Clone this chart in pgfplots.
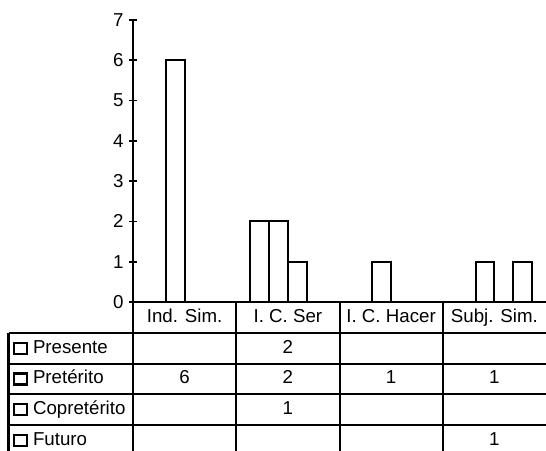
\documentclass[border=0pt]{standalone}
\usepackage{fontspec}
\setmainfont{Liberation Sans}
\usepackage{pgfplots}
\pgfplotsset{compat=1.18}
\begin{document}
\begin{tikzpicture}[font=\fontsize{18.7bp}{22bp}\selectfont]
\useasboundingbox (0bp,0bp) rectangle (546bp,451bp);
\begin{axis}[at={(133bp,149bp)}, anchor=south west, scale only axis,
  width=413bp, height=282bp, xmin=0, xmax=4, ymin=0, ymax=7,
  axis lines=left, axis line style={-, line width=2bp},
  ytick={0,...,7}, xtick=\empty, tick align=center, major tick length=8bp,
  tick style={line width=1.8bp, black},
  yticklabel style={font=\fontsize{18.7bp}{22bp}\selectfont, xshift=-2bp},
  /pgf/number format/assume math mode=true, clip=false]
% Presente
\addplot[ybar, bar width=18.77bp, bar shift=-28.16bp, draw=black, fill=white, line width=2bp] coordinates {(1.5,2)};
% Preterito
\addplot[ybar, bar width=18.77bp, bar shift=-9.39bp, draw=black, fill=white, line width=2bp] coordinates {(0.5,6) (1.5,2) (2.5,1) (3.5,1)};
% Copreterito
\addplot[ybar, bar width=18.77bp, bar shift=9.39bp, draw=black, fill=white, line width=2bp] coordinates {(1.5,1)};
% Futuro
\addplot[ybar, bar width=18.77bp, bar shift=28.16bp, draw=black, fill=white, line width=2bp] coordinates {(3.5,1)};
\end{axis}
\begin{scope}[x=1bp, y=1bp, line width=2bp,
  every node/.style={inner sep=0pt, text height=13bp, text depth=3.5bp}]
\draw (133,149) -- (133,0);
\foreach \xx in {236.25,339.5,442.75} \draw (\xx,149) -- (\xx,0);
\draw (8.5,118) -- (8.5,0);
\foreach \yy in {118,87,56.5,26} \draw (8.5,\yy) -- (546,\yy);
% header
\node at (184.6,133.5) {Ind. Sim.};
\node at (287.9,133.5) {I. C. Ser};
\node at (391.1,133.5) {I. C. Hacer};
\node at (494.4,133.5) {Subj. Sim.};
% row labels
\foreach \yy/\lab in {102.5/Presente, 72/Pretérito, 41.25/Copretérito, 10.5/Futuro}{
  \draw[line width=2.4bp] (14,\yy-5.5) rectangle (27,\yy+5.5);
  \node[anchor=west] at (32,\yy) {\lab};
}
% values
\node at (287.9,102.5) {2};
\node at (184.6,72) {6};
\node at (287.9,72) {2};
\node at (391.1,72) {1};
\node at (494.4,72) {1};
\node at (287.9,41.25) {1};
\node at (494.4,10.5) {1};
\end{scope}
\end{tikzpicture}
\end{document}
